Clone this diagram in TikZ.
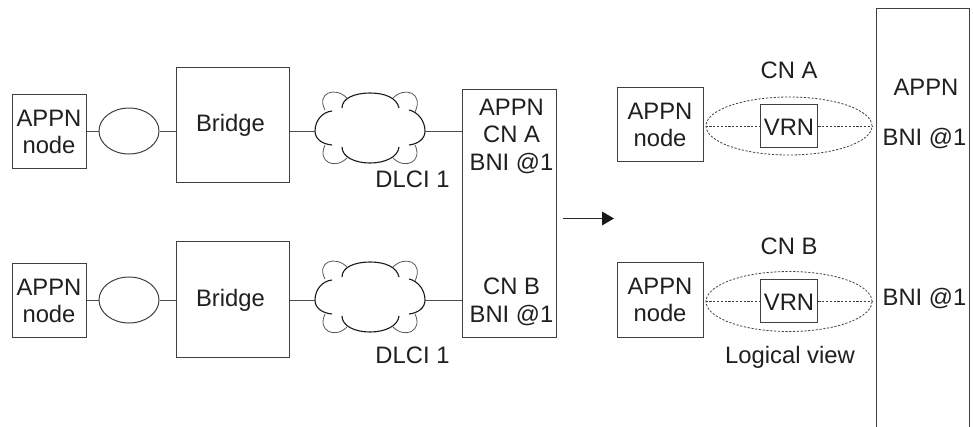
\documentclass[tikz,border=0pt]{standalone}
\usepackage{fontspec}
\usetikzlibrary{shapes.geometric}
\setmainfont{Liberation Sans}
\begin{document}
\begin{tikzpicture}[x=1pt,y=-1pt,line width=1pt,
  every node/.style={font=\fontsize{23.8}{27.5}\selectfont,text=black!88,inner sep=0pt},
  boxed/.style={draw=black!75,rectangle,anchor=north west},
  vbox/.style={boxed,line width=1.4pt},
  lbl/.style={align=center,anchor=center},
  oval/.style={draw=black!75,ellipse},
  dot/.style={draw=black!75,dash pattern=on 2.2pt off 1.6pt,line width=.8pt},
  wire/.style={draw=black!70}]
\useasboundingbox (0,0) rectangle (973,426);
\tikzset{pics/cloud/.style={code={
  \draw[black!90,line width=1.1pt]
     (-28,-23) .. controls (-28,-33) and (-15,-38) .. (0,-38) .. controls (15,-38) and (27,-33) .. (29,-23)
     (39,-21) .. controls (48,-19) and (55,-10) .. (55,0) .. controls (55,8) and (48,13) .. (39,14)
     (29,16) .. controls (28,26) and (15,32) .. (0,32) .. controls (-15,32) and (-28,26) .. (-28,16)
     (-38,14) .. controls (-48,13) and (-55,8) .. (-55,0) .. controls (-55,-10) and (-48,-19) .. (-38,-20);
  \draw[black!65,line width=.8pt]
     (-45,-21) .. controls (-54,-38) and (-35,-45) .. (-23,-33)
     (23,-33) .. controls (35,-45) and (54,-38) .. (45,-19)
     (45,14) .. controls (53,31) and (35,39) .. (23,27)
     (-23,27) .. controls (-35,39) and (-53,31) .. (-45,14);
}}}

% upper left row
\node[boxed,minimum width=74pt,minimum height=74pt] (an1) at (12,94) {};
\node[lbl] (an1t) at (49,132) {APPN\\node};
\node[oval,minimum width=60pt,minimum height=46pt] (el1) at (129,131) {};
\node[boxed,minimum width=113pt,minimum height=115pt] (br1) at (176,67) {};
\node[lbl] (br1t) at (230.5,125) {Bridge};
\coordinate (cl1w) at (315,131);
\coordinate (cl1e) at (425,131);
\pic at (370,131) {cloud};
\node[lbl] (d1) at (412.5,179) {DLCI 1};

% lower left row
\node[boxed,minimum width=74pt,minimum height=74pt] (an2) at (12,263) {};
\node[lbl] (an2t) at (49,301) {APPN\\node};
\node[oval,minimum width=60pt,minimum height=46pt] (el2) at (129,300) {};
\node[boxed,minimum width=113pt,minimum height=116pt] (br2) at (176,241) {};
\node[lbl] (br2t) at (230.5,300) {Bridge};
\coordinate (cl2w) at (315,300);
\coordinate (cl2e) at (425,300);
\pic at (370,300) {cloud};
\node[lbl] (d2) at (412.5,355) {DLCI 1};

% centre box
\node[boxed,minimum width=94pt,minimum height=248pt] (cb) at (462,89) {};
\node[lbl] (cbt) at (511.5,136) {APPN\\CN A\\BNI @1};
\node[lbl] (cbb) at (511.5,302) {CN B\\BNI @1};
\coordinate (cbw1) at (462,131);
\coordinate (cbw2) at (462,300);

\draw[wire] (an1.east |- el1) -- (el1);
\draw[wire] (el1) -- (br1.west |- el1);
\draw[wire] (br1.east |- cl1w) -- (cl1w);
\draw[wire] (cl1e) -- (cbw1);
\draw[wire] (an2.east |- el2) -- (el2);
\draw[wire] (el2) -- (br2.west |- el2);
\draw[wire] (br2.east |- cl2w) -- (cl2w);
\draw[wire] (cl2e) -- (cbw2);

% arrow
\coordinate (ar1) at (563,218.5);
\coordinate (ar2) at (614,218.5);
\draw[black!85] (ar1) -- (602,218.5);
\fill[black!90] (ar2) -- (602,211.5) -- (602,225.5) -- cycle;

% right box
\node[boxed,minimum width=93pt,minimum height=430pt] (rb) at (876,8) {};
\node[lbl] (rb1) at (926,87) {APPN};
\node[lbl] (rb2) at (924.5,139) {BNI @1};
\node[lbl] (rb3) at (924.5,299) {BNI @1};

% logical A
\node[lbl] (ca) at (789,70) {CN A};
\node[boxed,minimum width=86pt,minimum height=74pt] (ln1) at (617,87) {};
\node[lbl] (ln1t) at (660,125) {APPN\\node};
\node[ellipse,dot,minimum width=166pt,minimum height=58pt] (le1) at (789,126) {};
\node[vbox,minimum width=57pt,minimum height=43pt] (v1) at (760,104) {};
\node[lbl] (v1t) at (789,127) {VRN};
\draw[dot] (le1.west) -- (v1.west |- le1.west);
\draw[dot] (v1.east |- le1.east) -- (le1.east);

% logical B
\node[lbl] (cbl) at (789,246) {CN B};
\node[boxed,minimum width=86pt,minimum height=75pt] (ln2) at (617,262) {};
\node[lbl] (ln2t) at (660,300) {APPN\\node};
\node[ellipse,dot,minimum width=166pt,minimum height=60pt] (le2) at (789,301.5) {};
\node[vbox,minimum width=57pt,minimum height=43pt] (v2) at (760,279) {};
\node[lbl] (v2t) at (789,302) {VRN};
\draw[dot] (le2.west) -- (v2.west |- le2.west);
\draw[dot] (v2.east |- le2.east) -- (le2.east);
\node[lbl] (lv) at (790,357) {Logical view};
\end{tikzpicture}
\end{document}
